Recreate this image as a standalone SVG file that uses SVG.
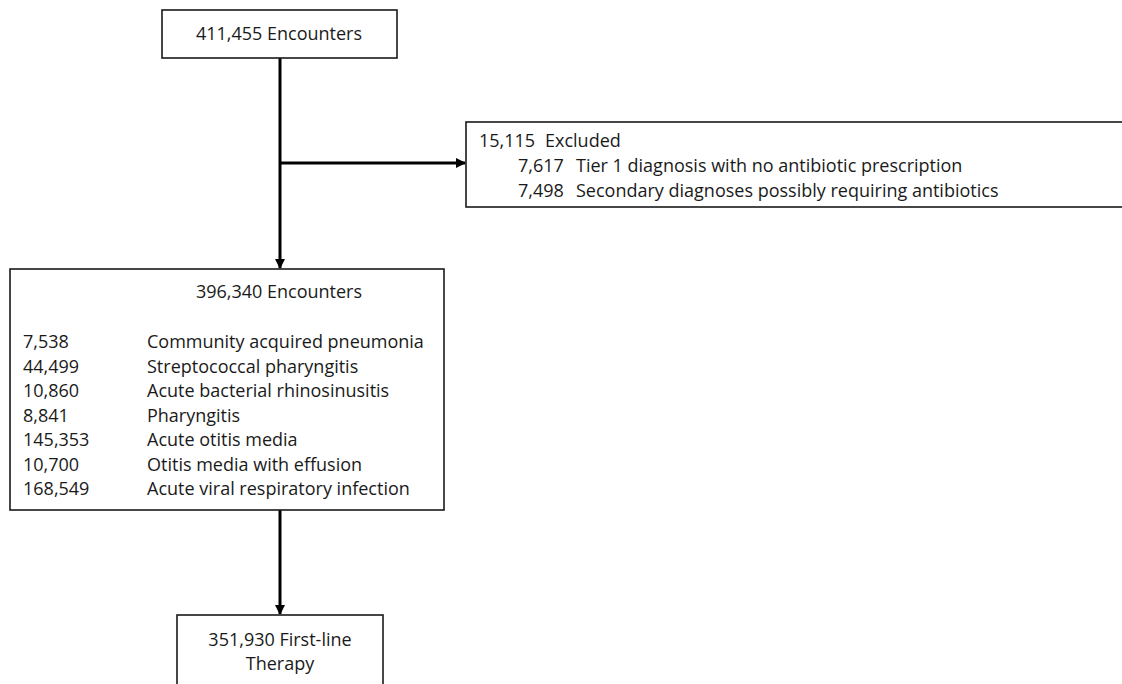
<svg xmlns="http://www.w3.org/2000/svg" width="1122" height="684" viewBox="0 0 1122 684">
<defs>
<style>
.box{fill:#fff;stroke:#1a1a1a;stroke-width:1.6}
.t{font-family:"Open Sans","Liberation Sans",sans-serif;font-size:18px;fill:#1a1a1a}
.c{text-anchor:middle}
.ln{stroke:#000;stroke-width:3;fill:none}
</style>
<marker id="ah" markerWidth="10" markerHeight="10" refX="9" refY="5" orient="auto" markerUnits="userSpaceOnUse">
<path d="M0,0 L10,5 L0,10 Z" fill="#000"/>
</marker>
</defs>
<rect width="1122" height="684" fill="#fff"/>
<g id="connectors">
<line class="ln" x1="280" y1="58" x2="280" y2="268" marker-end="url(#ah)"/>
<line class="ln" x1="280" y1="163" x2="465" y2="163" marker-end="url(#ah)"/>
<line class="ln" x1="280" y1="510" x2="280" y2="614" marker-end="url(#ah)"/>
</g>
<g id="n1">
<rect class="box" x="162" y="10" width="235" height="48"/>
<text class="t c" x="279" y="40">411,455 Encounters</text>
</g>
<g id="n2">
<rect class="box" x="466" y="122" width="660" height="85"/>
<text class="t" x="479" y="147">15,115</text>
<text class="t" x="545" y="147">Excluded</text>
<text class="t" x="518" y="172">7,617</text>
<text class="t" x="576" y="172">Tier 1 diagnosis with no antibiotic prescription</text>
<text class="t" x="518" y="197">7,498</text>
<text class="t" x="576" y="197">Secondary diagnoses possibly requiring antibiotics</text>
</g>
<g id="n3">
<rect class="box" x="10" y="269" width="434" height="241"/>
<text class="t c" x="279" y="298">396,340 Encounters</text>
<text class="t" x="23" y="348">7,538</text><text class="t" x="147" y="348">Community acquired pneumonia</text>
<text class="t" x="23" y="372.5">44,499</text><text class="t" x="147" y="372.5">Streptococcal pharyngitis</text>
<text class="t" x="23" y="397">10,860</text><text class="t" x="147" y="397">Acute bacterial rhinosinusitis</text>
<text class="t" x="23" y="421.5">8,841</text><text class="t" x="147" y="421.5">Pharyngitis</text>
<text class="t" x="23" y="446">145,353</text><text class="t" x="147" y="446">Acute otitis media</text>
<text class="t" x="23" y="470.5">10,700</text><text class="t" x="147" y="470.5">Otitis media with effusion</text>
<text class="t" x="23" y="495">168,549</text><text class="t" x="147" y="495">Acute viral respiratory infection</text>
</g>
<g id="n4">
<rect class="box" x="177" y="615" width="206" height="80"/>
<text class="t c" x="280" y="646">351,930 First-line</text>
<text class="t c" x="280" y="670">Therapy</text>
</g>
</svg>
